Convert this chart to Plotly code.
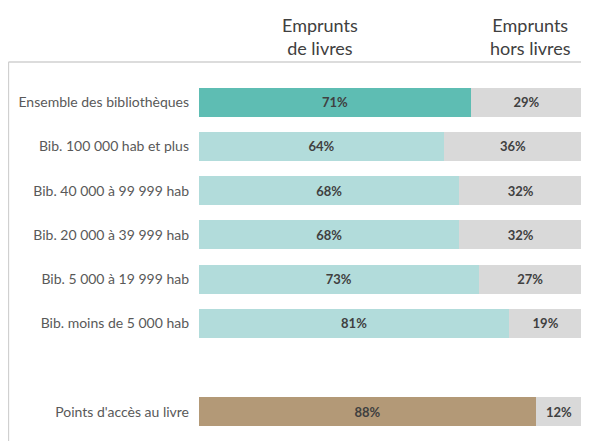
import plotly.graph_objects as go

categories = [
    "Ensemble des bibliothèques",
    "Bib. 100 000 hab et plus",
    "Bib. 40 000 à 99 999 hab",
    "Bib. 20 000 à 39 999 hab",
    "Bib. 5 000 à 19 999 hab",
    "Bib. moins de 5 000 hab",
    " ",
    "Points d'accès au livre",
]
livres = [71, 64, 68, 68, 73, 81, None, 88]
hors_livres = [29, 36, 32, 32, 27, 19, None, 12]
livres_colors = ["#5EBDB3", "#B2DCDB", "#B2DCDB", "#B2DCDB", "#B2DCDB", "#B2DCDB", "#B2DCDB", "#B39977"]
hors_color = "#D9D9D9"

FONT = "Lato"

# page body has an 8px margin: figure is sized/positioned to compensate
W, H = 581, 433
ML, MR, MT, MB = 191, 7, 72, 7
PW = W - ML - MR
PH = H - MT - MB

fig = go.Figure()
fig.add_trace(go.Bar(
    y=categories, x=livres, orientation="h",
    marker=dict(color=livres_colors, line=dict(width=0)),
    text=[f"{v}%" if v is not None else "" for v in livres],
    textposition="inside", insidetextanchor="middle", textangle=0,
    textfont=dict(family=FONT, size=13, color="#404040", weight="bold"),
    name="Emprunts de livres", hoverinfo="skip",
))
fig.add_trace(go.Bar(
    y=categories, x=hors_livres, orientation="h",
    marker=dict(color=hors_color, line=dict(width=0)),
    text=[f"{v}%" if v is not None else "" for v in hors_livres],
    textposition="inside", insidetextanchor="middle", textangle=0,
    textfont=dict(family=FONT, size=13, color="#404040", weight="bold"),
    name="Emprunts hors livres", hoverinfo="skip",
))

top_y = 1 + 18 / PH
left_x = -(ML - 0.5) / PW

fig.update_layout(
    barmode="stack",
    bargap=0.34,
    width=W, height=H,
    margin=dict(l=ML, r=MR, t=MT, b=MB),
    paper_bgcolor="white", plot_bgcolor="white",
    showlegend=False,
    uniformtext=dict(minsize=13, mode="show"),
    font=dict(family=FONT, color="#595959"),
    xaxis=dict(range=[0, 100], visible=False, fixedrange=True),
    yaxis=dict(
        type="category", categoryorder="array", categoryarray=categories,
        autorange="reversed", showgrid=False, zeroline=False, showline=False,
        ticks="", ticklabelstandoff=9, automargin=False,
        tickfont=dict(family=FONT, size=14, color="#595959"),
    ),
    shapes=[
        dict(type="line", xref="paper", yref="paper", x0=left_x, x1=1 + MR / PW,
             y0=top_y, y1=top_y, line=dict(color="#D0D0D0", width=1.3)),
        dict(type="line", xref="paper", yref="paper", x0=left_x, x1=left_x,
             y0=-MB / PH, y1=top_y, line=dict(color="#D0D0D0", width=1.3)),
    ],
    annotations=[
        dict(text="Emprunts<br>de livres", xref="paper", yref="paper",
             x=(320 - 8 - ML) / PW, y=1 + (MT - 36 + 8) / PH,
             xanchor="center", yanchor="middle", showarrow=False,
             font=dict(family=FONT, size=18, color="#404040")),
        dict(text="Emprunts<br>hors livres", xref="paper", yref="paper",
             x=(530 - 8 - ML) / PW, y=1 + (MT - 36 + 8) / PH,
             xanchor="center", yanchor="middle", showarrow=False,
             font=dict(family=FONT, size=18, color="#404040")),
    ],
)

fig.write_html("out.html")
